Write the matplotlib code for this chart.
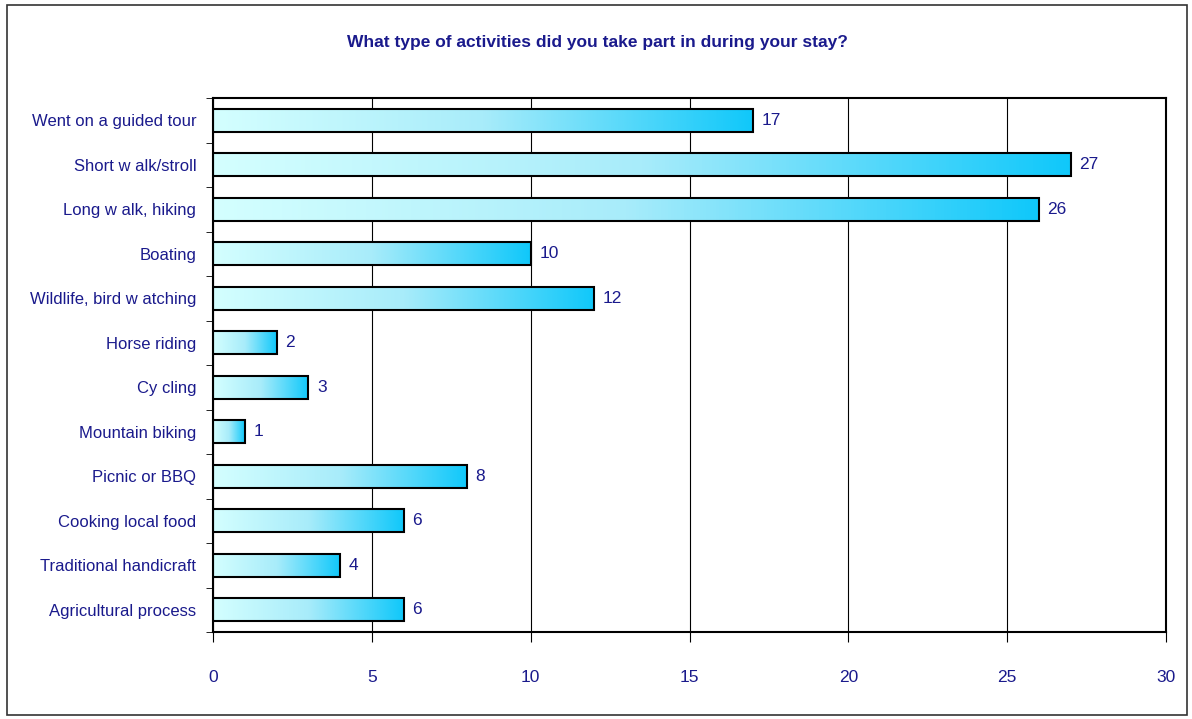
import numpy as np
import matplotlib.pyplot as plt
from matplotlib.colors import LinearSegmentedColormap
from matplotlib.patches import Rectangle

activities = ['Went on a guided tour', 'Short w alk/stroll', 'Long w alk, hiking', 'Boating',
              'Wildlife, bird w atching', 'Horse riding', 'Cy cling', 'Mountain biking',
              'Picnic or BBQ', 'Cooking local food', 'Traditional handicraft',
              'Agricultural process']
counts = [17, 27, 26, 10, 12, 2, 3, 1, 8, 6, 4, 6]

navy = '#1a1a8c'
plt.rcParams['font.family'] = ['Liberation Sans', 'DejaVu Sans']

fig = plt.figure(figsize=(11.92, 7.19), dpi=100)
ax = fig.add_axes([213 / 1192, 1 - 632 / 719, (1166 - 213) / 1192, (632 - 98) / 719])

# outer chart border
fig.patches.append(Rectangle((7 / 1192, 4 / 719), 1180 / 1192, 710 / 719,
                             transform=fig.transFigure, fill=False,
                             edgecolor='#333333', linewidth=1.2))

cmap = LinearSegmentedColormap.from_list('bar', ['#d4ffff', '#a8ecfa', '#10c8fa'])
grad = np.linspace(0, 1, 256).reshape(1, -1)

n = len(activities)
ypos = np.arange(n)
h = 0.52
for y, v in zip(ypos, counts):
    ax.imshow(grad, cmap=cmap, aspect='auto', extent=(0, v, y + h / 2, y - h / 2),
              zorder=2, interpolation='bilinear')
    ax.add_patch(Rectangle((0, y - h / 2), v, h, fill=False, edgecolor='black',
                           linewidth=1.5, zorder=3))
    ax.text(v + 0.27, y, str(v), va='center', ha='left', fontsize=12.5, color=navy)

ax.set_xlim(0, 30)
ax.set_ylim(n - 0.5, -0.5)
ax.set_xticks(range(0, 31, 5))
ax.set_xticklabels([str(t) for t in range(0, 31, 5)], fontsize=12.5, color=navy)
ax.tick_params(axis='x', length=7, pad=20, color='black')
ax.set_yticks(ypos)
ax.set_yticklabels(activities, fontsize=12, color=navy)
ax.tick_params(axis='y', length=0, pad=12)
ax.set_yticks(np.arange(-0.5, n, 1), minor=True)
ax.tick_params(axis='y', which='minor', length=5, color='black')
ax.grid(axis='x', color='black', linewidth=0.8, zorder=0)
ax.set_axisbelow(True)
for s in ax.spines.values():
    s.set_linewidth(1.5)
    s.set_color('black')

fig.text(597 / 1192, 1 - 42 / 719, 'What type of activities did you take part in during your stay?',
         ha='center', va='center', fontsize=12.5, fontweight='bold', color=navy)

fig.savefig('out.png', dpi=100)
